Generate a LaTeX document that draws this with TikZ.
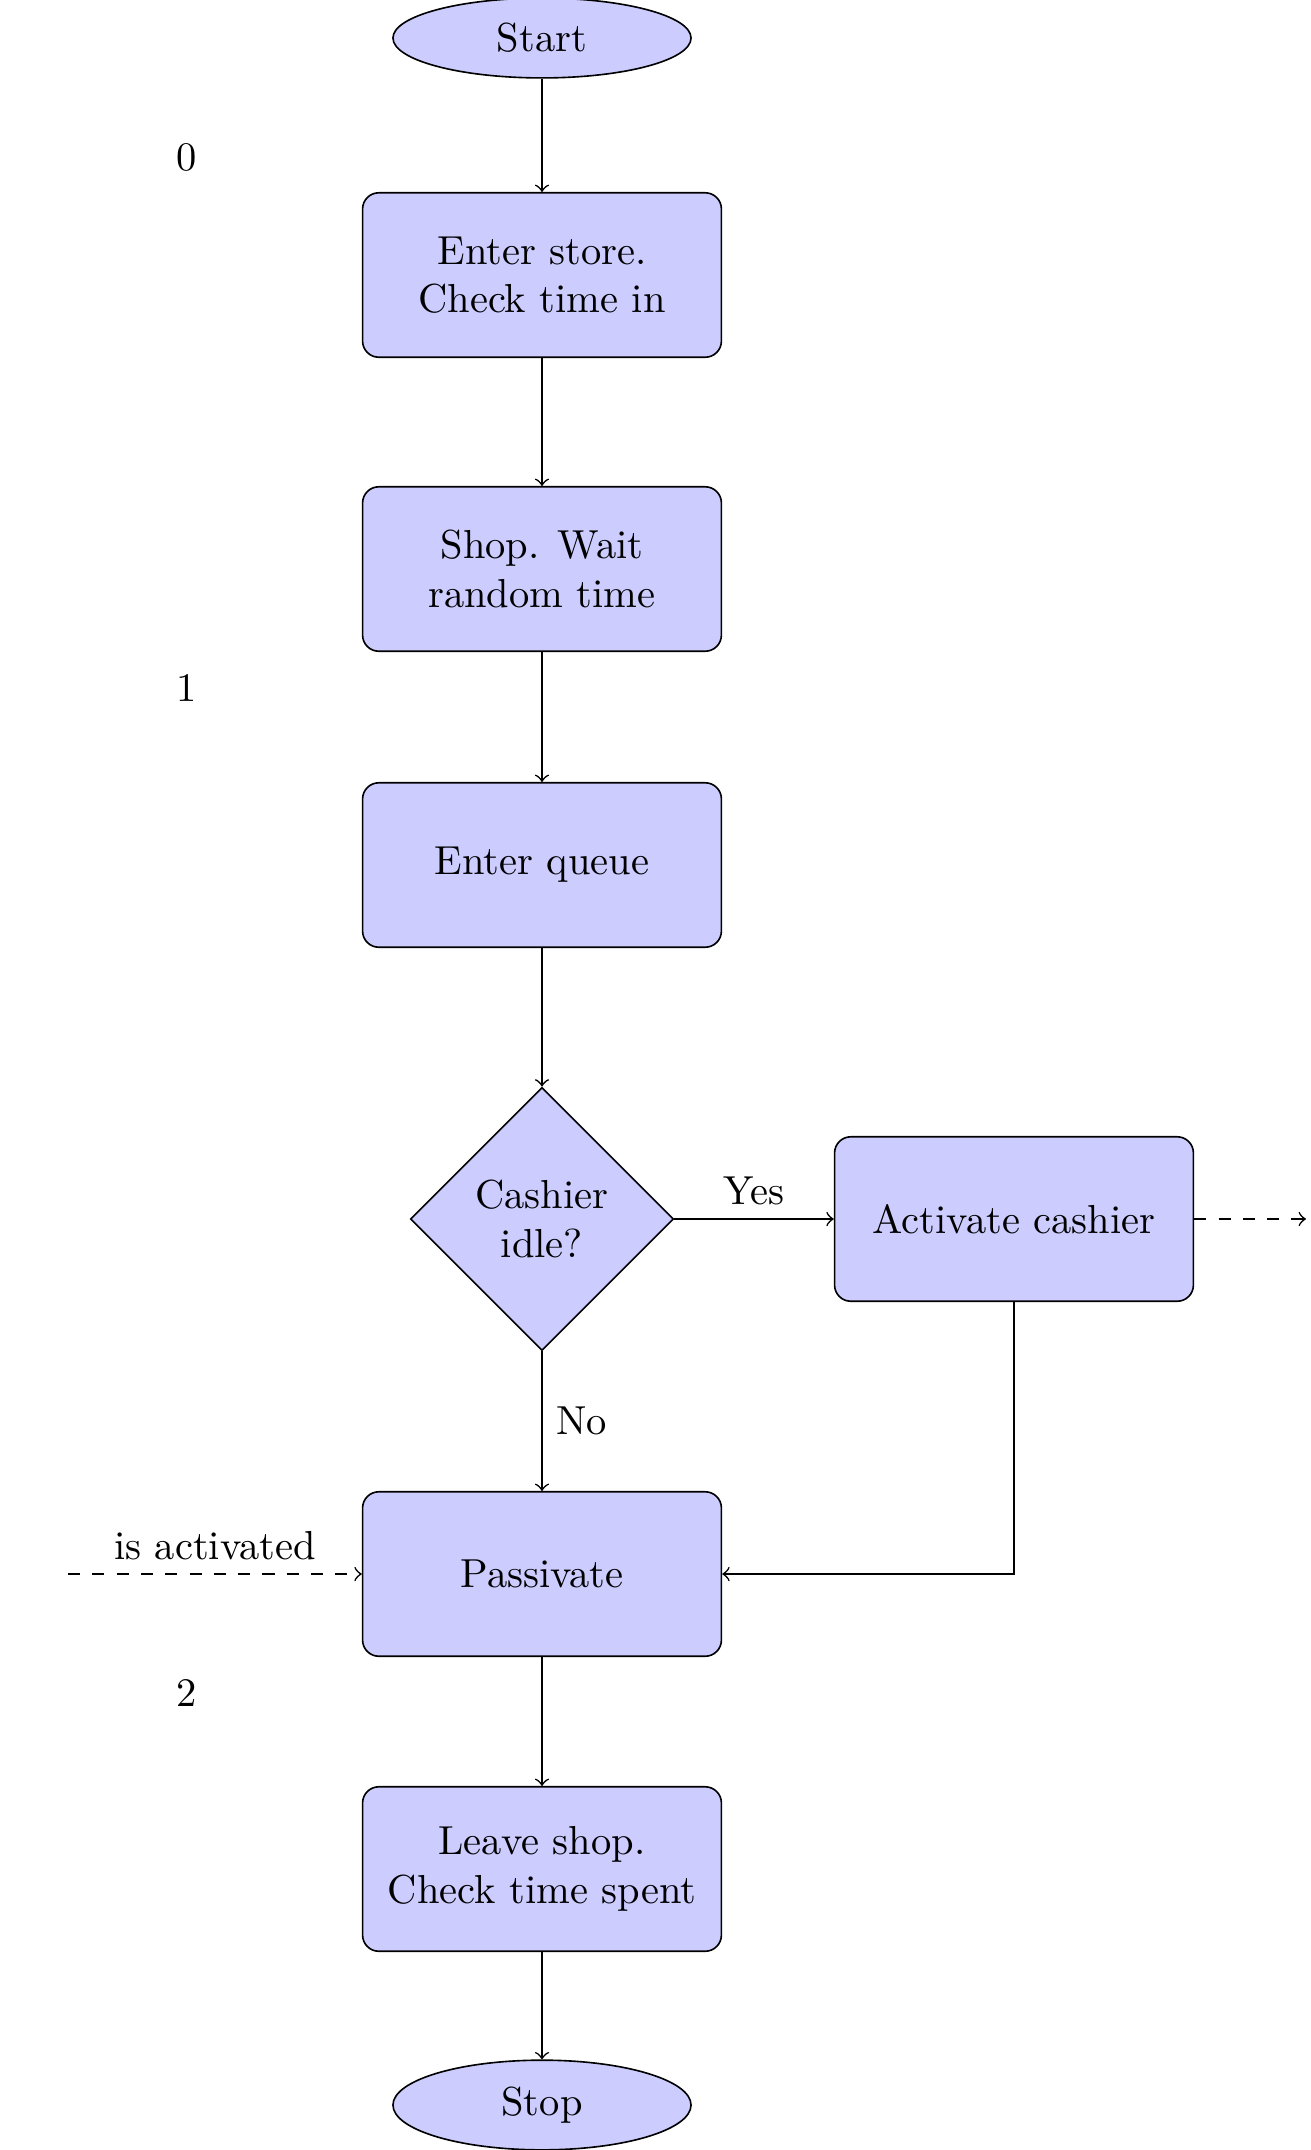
\documentclass[tikz,border=0pt]{standalone}
\usetikzlibrary{shapes.geometric}
\begin{document}
\begin{tikzpicture}[x=0.2469pt,y=-0.2469pt,
  box/.style={draw, rounded corners, fill=blue!20, minimum width=88.6pt, minimum height=40.6pt, align=center, inner sep=2pt},
  term/.style={draw, ellipse, fill=blue!20, minimum width=73.6pt},
  decide/.style={draw, diamond, fill=blue!20, minimum width=65pt, minimum height=65pt, align=center, inner sep=1pt},
  conn/.style={draw, ->},
  dconn/.style={draw, ->, dashed}]
\useasboundingbox (0,0) rectangle (1311,2150);
\node[term] (start) at (542,38) {Start};
\node[box] (enter) at (542,275) {Enter store.\\Check time in};
\node[box] (shop) at (542,569) {Shop. Wait\\random time};
\node[box] (queue) at (542,865) {Enter queue};
\node[decide] (idle) at (542,1219) {Cashier\\idle?};
\node[box] (act) at (1014,1219) {Activate cashier};
\node[box] (pass) at (542,1574) {Passivate};
\node[box] (leave) at (542,1869) {Leave shop.\\Check time spent};
\node[term] (stop) at (542,2105) {Stop};
\node (l0) at (187,157) {0};
\node (l1) at (187,688) {1};
\node (l2) at (187,1693) {2};
\coordinate (out) at (1306,1219);
\coordinate (in) at (68,1574);
\draw[conn] (start) -- (enter);
\draw[conn] (enter) -- (shop);
\draw[conn] (shop) -- (queue);
\draw[conn] (queue) -- (idle);
\draw[conn] (idle) -- node[above]{Yes} (act);
\draw[conn] (idle) -- node[right]{No} (pass);
\draw[conn] (act) |- (pass);
\draw[conn] (pass) -- (leave);
\draw[conn] (leave) -- (stop);
\draw[dconn] (act) -- (out);
\draw[dconn] (in) -- node[above]{is activated} (pass);
\end{tikzpicture}
\end{document}
